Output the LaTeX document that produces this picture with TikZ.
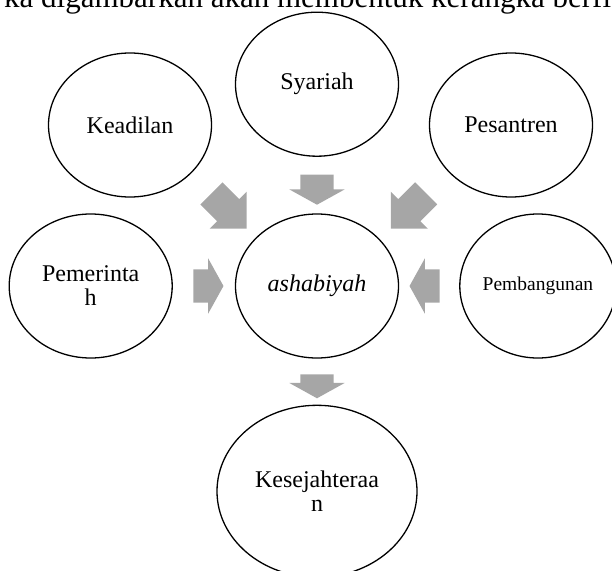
\documentclass[tikz,border=0pt]{standalone}
\usepackage{fontspec}
\setmainfont{Liberation Serif}
\usetikzlibrary{shapes.geometric,shapes.arrows,positioning,calc}
\definecolor{arrowgray}{HTML}{A6A6A6}

\begin{document}
\begin{tikzpicture}[
    x=1pt, y=-1pt,
    bubble/.style={
        ellipse,
        minimum width=163pt,
        minimum height=144pt,
        draw=black, line width=1.3pt,
        inner sep=0pt,
        align=center,
        font=\fontsize{24}{24}\selectfont
    },
    blockarrow/.style={
        single arrow, fill=arrowgray, draw=none,
        inner xsep=0pt, inner ysep=16.5pt,
        minimum width=55pt, minimum height=30pt,
        single arrow head extend=11pt,
        single arrow tip angle=122
    },
    diagarrow/.style={
        blockarrow,
        inner ysep=15.5pt,
        minimum width=52pt, minimum height=50pt,
        single arrow head extend=10.5pt,
        single arrow tip angle=90
    },
    node distance=60pt
]
\useasboundingbox (0,0) rectangle (612,570);
\clip (0,0) rectangle (612,570);

% --- running text, cut off at the top ---
\node[anchor=base west, inner sep=0pt, font=\fontsize{31}{31}\selectfont] (intro) at (4,7) {ka digambarkan akan membentuk kerangka berfi};

% --- CENTER ---
\node[bubble] (ash) at (317,286) {\textit{ashabiyah}};

% --- RING AROUND THE CENTER ---
\node[bubble, above=56.5pt of ash] (syariah) {Syariah};
\node[bubble] (keadilan) at (130,125) {Keadilan};
\node[bubble] (pesantren) at (511,125) {Pesantren};
\node[bubble, left=62pt of ash] (pemerintah) {Pemerinta\\h};
\node[bubble, right=of ash, minimum width=153pt, font=\fontsize{19.5}{20}\selectfont] (pembangunan) {Pembangunan};
\node[bubble, below=46pt of ash, minimum width=200pt, minimum height=172pt] (sejahtera) {Kesejahteraa\\n};

% --- BLOCK ARROWS ---
% 1. top row -> center
\node[diagarrow, rotate=-45] (a1) at ($(keadilan.south east)!0.5!(ash.north west)$) {};
\node[blockarrow, rotate=-90] (a2) at ($(syariah.south)!0.5!(ash.north)$) {};
\node[diagarrow, rotate=-135] (a3) at ($(pesantren.south west)!0.5!(ash.north east)$) {};

% 2. sides -> center
\node[blockarrow] (a4) at ($(pemerintah.east)!0.5!(ash.west)$) {};
\node[blockarrow, rotate=180] (a5) at ($(pembangunan.west)!0.5!(ash.east)$) {};

% 3. center -> bottom
\node[blockarrow, rotate=-90, minimum height=24pt] (a6) at ($(ash.south)!0.5!(sejahtera.north)$) {};

\end{tikzpicture}
\end{document}
